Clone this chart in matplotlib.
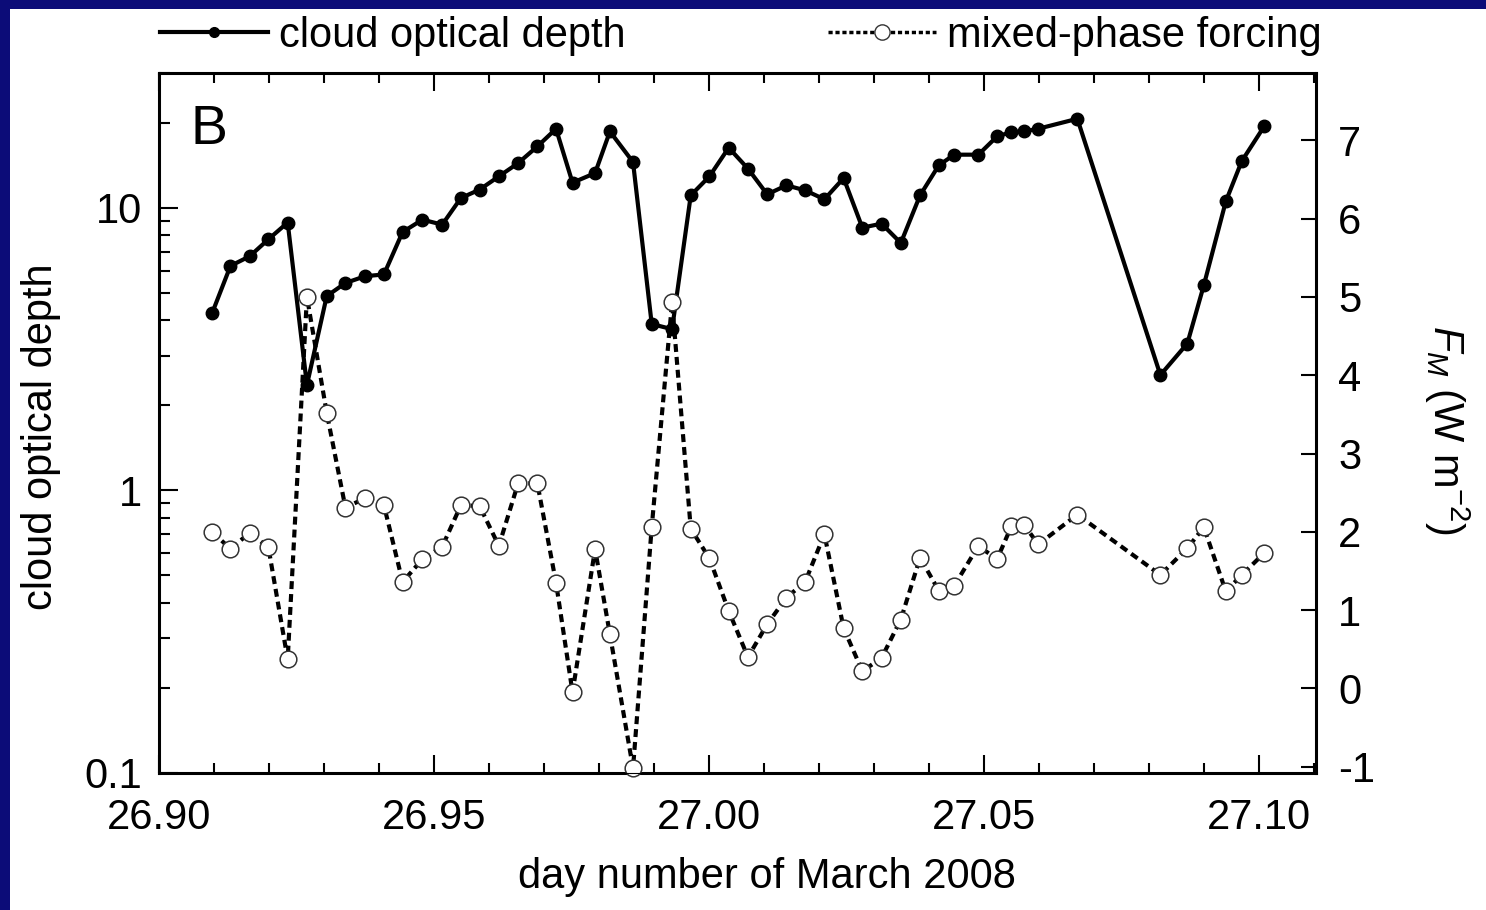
import matplotlib.pyplot as plt
from matplotlib.lines import Line2D
from matplotlib.patches import Rectangle
from matplotlib.ticker import MultipleLocator, LogLocator, NullFormatter

plt.rcParams['font.family'] = ['Liberation Sans', 'DejaVu Sans']
plt.rcParams['mathtext.fontset'] = 'custom'
plt.rcParams['mathtext.rm'] = 'Liberation Sans'
plt.rcParams['mathtext.it'] = 'Liberation Sans:italic'
plt.rcParams['axes.unicode_minus'] = False

# day number of March 2008
day = [26.9097, 26.9130, 26.9165, 26.9199, 26.9234, 26.9269, 26.9305, 26.9339,
       26.9375, 26.9409, 26.9443, 26.9479, 26.9515, 26.9549, 26.9583, 26.9618,
       26.9653, 26.9688, 26.9722, 26.9752, 26.9793, 26.9820, 26.9862, 26.9896,
       26.9933, 26.9967, 27.0001, 27.0036, 27.0071, 27.0106, 27.0141, 27.0175,
       27.0210, 27.0245, 27.0279, 27.0314, 27.0349, 27.0384, 27.0418, 27.0446,
       27.0490, 27.0524, 27.0550, 27.0573, 27.0599, 27.0670, 27.0821, 27.0870,
       27.0900, 27.0940, 27.0969, 27.1010]

# cloud optical depth (left, log scale)
tau = [4.26, 6.23, 6.74, 7.74, 8.87, 2.36, 4.87, 5.42, 5.73, 5.81, 8.21, 9.08,
       8.72, 10.83, 11.60, 12.92, 14.39, 16.49, 19.04, 12.27, 13.27, 18.63, 14.52,
       3.88, 3.72, 11.07, 12.92, 16.32, 13.76, 11.16, 12.01, 11.53, 10.72, 12.74,
       8.51, 8.79, 7.51, 11.07, 14.13, 15.42, 15.42, 17.89, 18.53, 18.63, 19.05,
       20.66, 2.56, 3.31, 5.32, 10.54, 14.63, 19.45]

# mixed-phase forcing F_M (W m-2, right axis)
forcing = [2.00, 1.78, 1.99, 1.80, 0.37, 5.00, 3.52, 2.31, 2.43, 2.34, 1.36, 1.65,
           1.81, 2.34, 2.33, 1.82, 2.62, 2.62, 1.35, -0.05, 1.78, 0.69, -1.02, 2.06,
           4.93, 2.04, 1.66, 0.99, 0.40, 0.82, 1.16, 1.36, 1.97, 0.77, 0.22, 0.39,
           0.88, 1.67, 1.25, 1.31, 1.82, 1.65, 2.07, 2.09, 1.84, 2.22, 1.45, 1.79,
           2.06, 1.24, 1.45, 1.73]

W, H = 1486, 910
fig = plt.figure(figsize=(W / 100, H / 100), dpi=100, facecolor='#0c0c78')
fig.patches.append(Rectangle((10 / W, 0), 1, 1 - 9 / H, transform=fig.transFigure,
                             facecolor='white', edgecolor='none', zorder=-1))

ax = fig.add_axes([159 / W, 1 - 773 / H, (1316 - 159) / W, (773 - 73) / H])
ax.set_yscale('log')
ax.plot(day, tau, '-o', color='black', lw=3, ms=9)
ax.set_xlim(26.90, 27.1104)
ax.set_ylim(0.1, 30)
ax.set_xticks([26.90, 26.95, 27.00, 27.05, 27.10])
ax.set_xticklabels(['26.90', '26.95', '27.00', '27.05', '27.10'])
ax.xaxis.set_minor_locator(MultipleLocator(0.01))
ax.set_yticks([0.1, 1, 10])
ax.set_yticklabels(['0.1', '1', '10'])
ax.yaxis.set_minor_locator(LogLocator(base=10, subs=range(2, 10)))
ax.yaxis.set_minor_formatter(NullFormatter())
ax.tick_params(which='both', direction='in', top=True, right=False, width=1.5,
               labelsize=30, colors='black')
ax.tick_params(axis='x', which='major', length=13, pad=18)
ax.tick_params(axis='x', which='minor', length=7)
ax.tick_params(axis='y', which='major', length=14, pad=12)
ax.tick_params(axis='y', which='minor', length=8)
for s in ax.spines.values():
    s.set_linewidth(2.2)
ax.set_xlabel('day number of March 2008', fontsize=30, labelpad=14)
ax.xaxis.label.set_x(0.5255)
ax.set_ylabel('cloud optical depth', fontsize=30, labelpad=17)
ax.yaxis.label.set_y(0.48)
ax.text(0.027, 0.918, 'B', transform=ax.transAxes, fontsize=40, va='center', ha='left')

ax2 = ax.twinx()
ax2.plot(day, forcing, color='black', lw=3, ls=(0, (1.9, 1.2)), marker='o', ms=12,
         mfc='white', mec='#333333', mew=1.1, clip_on=False)
ax2.set_ylim(-1.08, 7.86)
ax2.set_yticks(range(-1, 8))
ax2.tick_params(direction='in', length=11, width=1.5, labelsize=30, pad=16)
ax2.set_ylabel(r'$F_{M}$ (W m$^{-2}$)', rotation=270, fontsize=30, labelpad=69)
ax2.yaxis.label.set_y(0.49)

h1 = Line2D([], [], color='black', lw=3, marker='o', ms=7)
h2 = Line2D([], [], color='black', lw=2.5, ls=(0, (1.2, 0.8)), marker='o', ms=11,
            mfc='white', mec='#333333', mew=1.0)
fig.legend(handles=[h1], labels=['cloud optical depth'], loc='center left',
           bbox_to_anchor=(160 / W, 1 - 36 / H), frameon=False, fontsize=30,
           handlelength=2.6, handletextpad=0.25, borderpad=0, borderaxespad=0)
fig.legend(handles=[h2], labels=['mixed-phase forcing'], loc='center left',
           bbox_to_anchor=(828 / W, 1 - 36 / H), frameon=False, fontsize=30,
           handlelength=2.6, handletextpad=0.25, borderpad=0, borderaxespad=0)

fig.savefig('out.png', dpi=100, facecolor=fig.get_facecolor())
